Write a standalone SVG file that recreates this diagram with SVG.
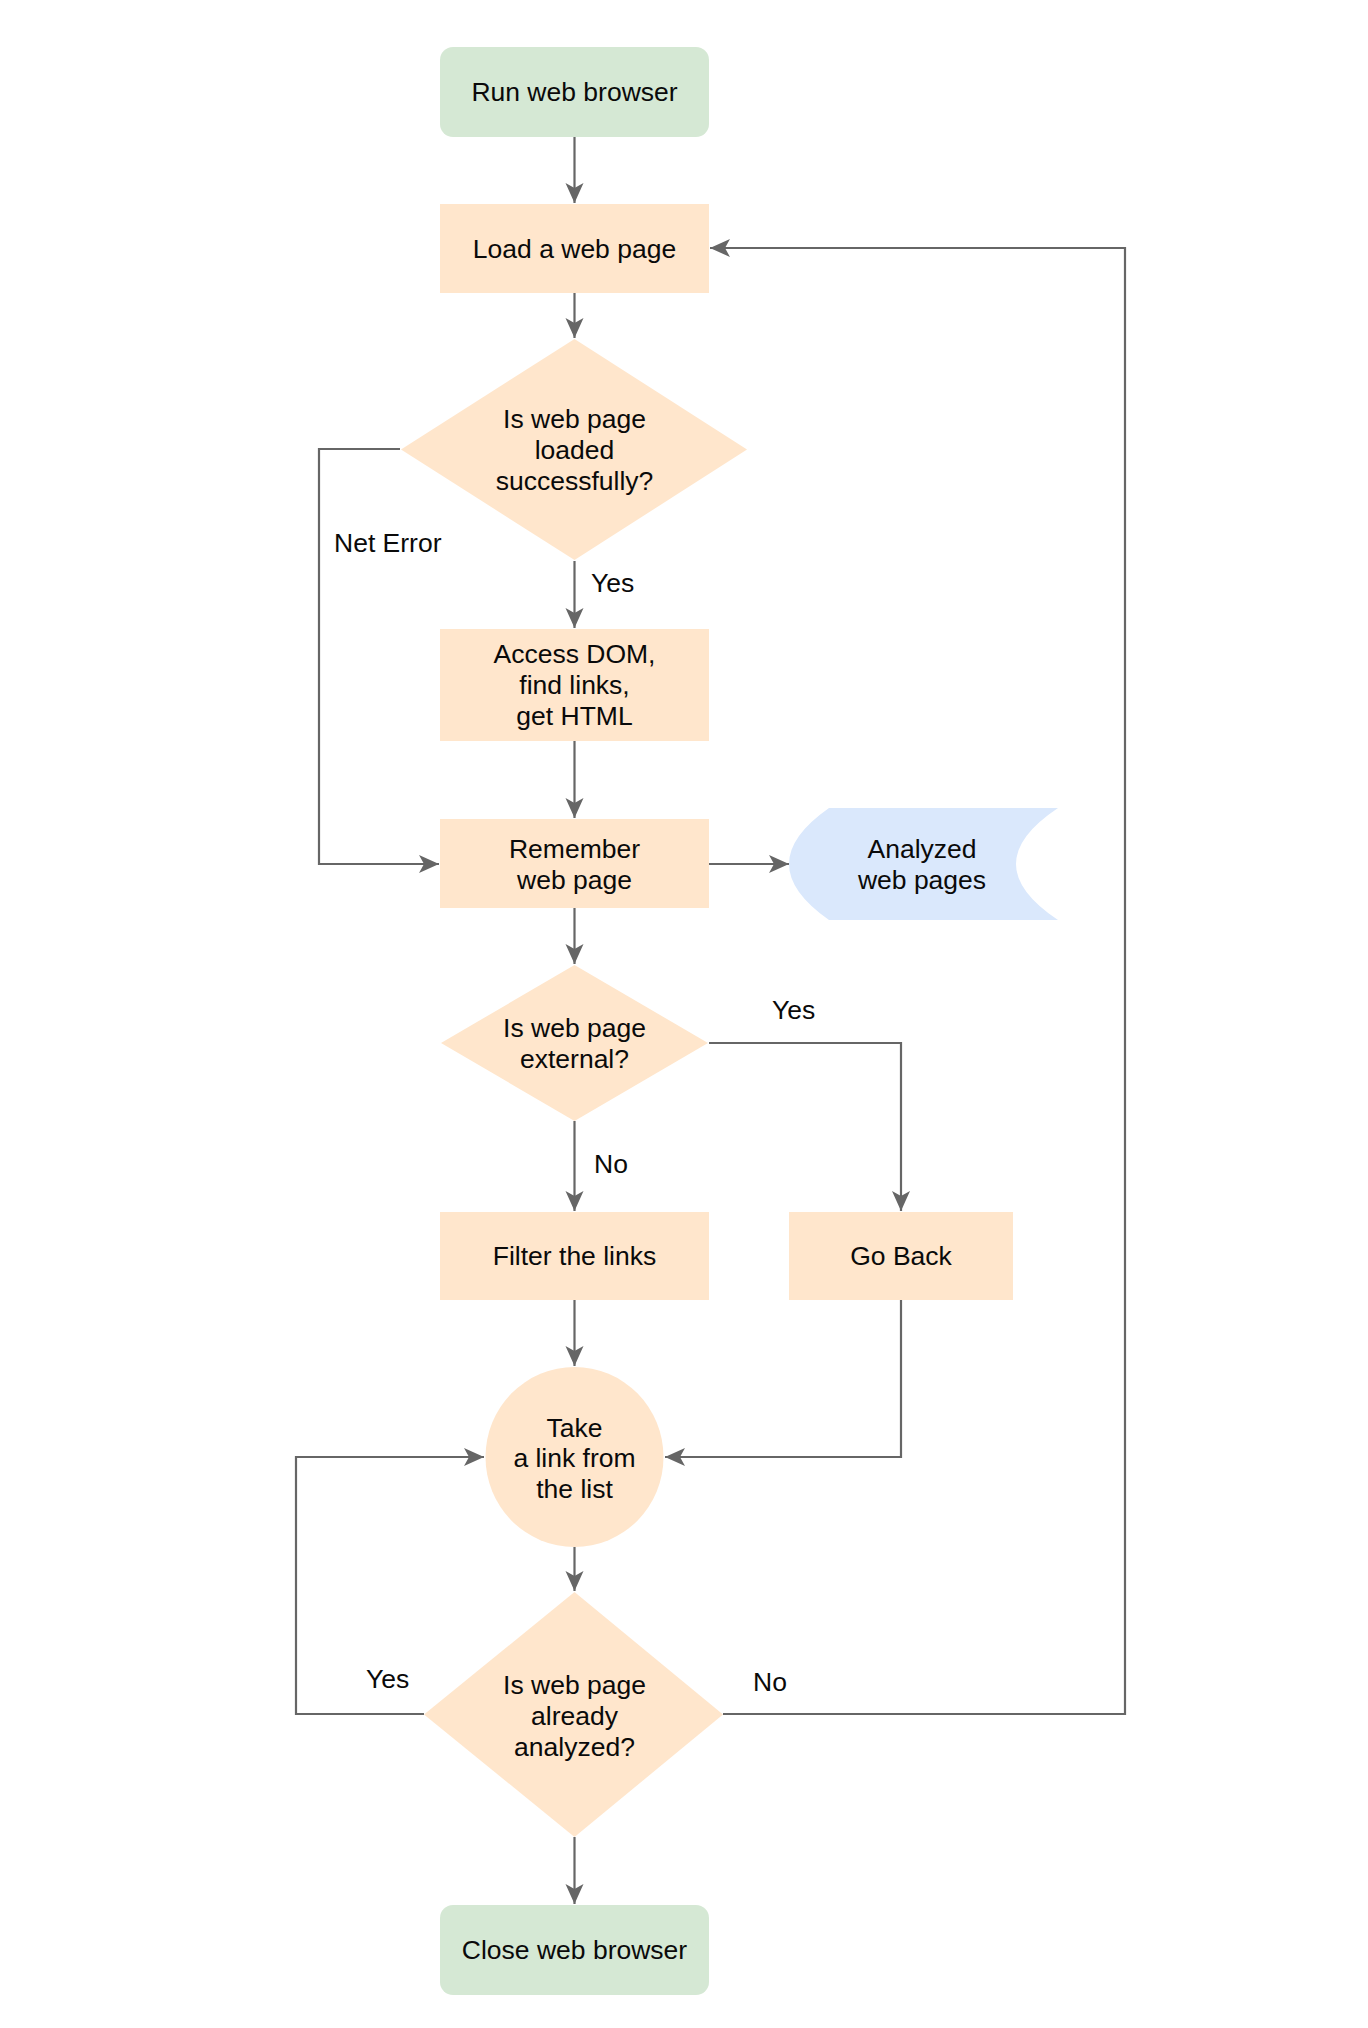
<svg xmlns="http://www.w3.org/2000/svg" width="1368" height="2028" viewBox="0 0 1368 2028">
<style>
text{font-family:"Liberation Sans",Arial,Helvetica,sans-serif;font-size:26.5px;fill:#0a0a0a;}
.c{text-anchor:middle;}
.green{fill:#d5e8d4;}
.orange{fill:#ffe6cc;}
.blue{fill:#dae8fc;}
.edge{fill:none;stroke:#666;stroke-width:2.2;marker-end:url(#arr);}
</style>
<defs>
<marker id="arr" markerUnits="userSpaceOnUse" markerWidth="26" markerHeight="22" viewBox="-22 -11 24 22" refX="0" refY="0" orient="auto">
<path d="M0,0 L-20,-9 L-15,0 L-20,9 Z" fill="#666"/>
</marker>
</defs>
<rect width="1368" height="2028" fill="#fff"/>
<g id="connectors">
<path class="edge" d="M574.5,137 V203"/>
<path class="edge" d="M574.5,293 V338"/>
<path class="edge" d="M400,449 H319 V864 H439"/>
<path class="edge" d="M574.5,561 V628"/>
<path class="edge" d="M574.5,741 V818"/>
<path class="edge" d="M709,864 H789"/>
<path class="edge" d="M574.5,908 V964"/>
<path class="edge" d="M709,1043 H901 V1211"/>
<path class="edge" d="M574.5,1121 V1211"/>
<path class="edge" d="M574.5,1300 V1366"/>
<path class="edge" d="M901,1300 V1457 H665"/>
<path class="edge" d="M574.5,1547 V1591"/>
<path class="edge" d="M424,1714 H296 V1457 H484"/>
<path class="edge" d="M723,1714 H1125 V248 H710"/>
<path class="edge" d="M574.5,1837 V1904"/>
<text x="334" y="552">Net Error</text>
<text x="591" y="592">Yes</text>
<text x="772" y="1019">Yes</text>
<text x="594" y="1173">No</text>
<text x="366" y="1688">Yes</text>
<text x="753" y="1691">No</text>
</g>
<g id="run-browser">
<rect class="green" x="440" y="47" width="269" height="90" rx="13"/>
<text class="c" x="574.5" y="101">Run web browser</text>
</g>
<g id="load-page">
<rect class="orange" x="440" y="204" width="269" height="89"/>
<text class="c" x="574.5" y="258">Load a web page</text>
</g>
<g id="loaded-decision">
<polygon class="orange" points="574.5,339 747,449.5 574.5,560 401,449.5"/>
<text class="c" x="574.5" y="428">Is web page</text>
<text class="c" x="574.5" y="459">loaded</text>
<text class="c" x="574.5" y="490">successfully?</text>
</g>
<g id="access-dom">
<rect class="orange" x="440" y="629" width="269" height="112"/>
<text class="c" x="574.5" y="663">Access DOM,</text>
<text class="c" x="574.5" y="694">find links,</text>
<text class="c" x="574.5" y="725">get HTML</text>
</g>
<g id="remember">
<rect class="orange" x="440" y="819" width="269" height="89"/>
<text class="c" x="574.5" y="858">Remember</text>
<text class="c" x="574.5" y="889">web page</text>
</g>
<g id="analyzed-pages">
<path class="blue" d="M829,808 H1058 Q974,864 1058,920 H829 Q749,864 829,808 Z"/>
<text class="c" x="922" y="858">Analyzed</text>
<text class="c" x="922" y="889">web pages</text>
</g>
<g id="external-decision">
<polygon class="orange" points="574.5,965 708,1043 574.5,1121 441,1043"/>
<text class="c" x="574.5" y="1037">Is web page</text>
<text class="c" x="574.5" y="1068">external?</text>
</g>
<g id="filter-links">
<rect class="orange" x="440" y="1212" width="269" height="88"/>
<text class="c" x="574.5" y="1265">Filter the links</text>
</g>
<g id="go-back">
<rect class="orange" x="789" y="1212" width="224" height="88"/>
<text class="c" x="901" y="1265">Go Back</text>
</g>
<g id="take-link">
<ellipse class="orange" cx="574.5" cy="1457" rx="89" ry="90"/>
<text class="c" x="574.5" y="1437">Take</text>
<text class="c" x="574.5" y="1467">a link from</text>
<text class="c" x="574.5" y="1498">the list</text>
</g>
<g id="analyzed-decision">
<polygon class="orange" points="574.5,1592 723,1714.5 574.5,1837 424,1714.5"/>
<text class="c" x="574.5" y="1694">Is web page</text>
<text class="c" x="574.5" y="1725">already</text>
<text class="c" x="574.5" y="1756">analyzed?</text>
</g>
<g id="close-browser">
<rect class="green" x="440" y="1905" width="269" height="90" rx="13"/>
<text class="c" x="574.5" y="1959">Close web browser</text>
</g>
</svg>
